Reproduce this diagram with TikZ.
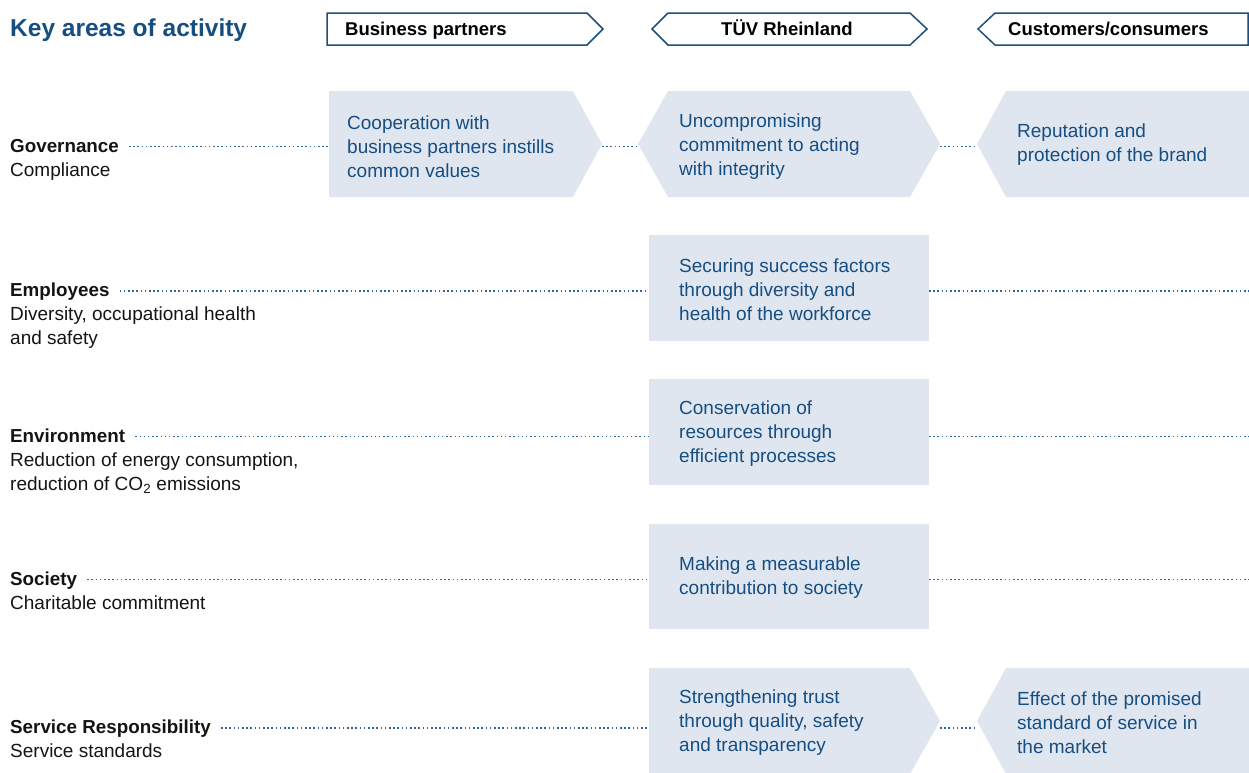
\documentclass[tikz,border=0pt]{standalone}
\usepackage{fontspec}
\setmainfont{Liberation Sans}
\definecolor{tblue}{RGB}{22,78,130}
\definecolor{boxfill}{RGB}{224,230,240}
\definecolor{dotblue}{RGB}{45,105,160}
\definecolor{hdr}{RGB}{30,80,125}
\definecolor{labtxt}{RGB}{20,20,20}
\tikzset{
  hdrbox/.style={draw=hdr, line width=1.5pt, fill=white, line join=miter},
  chev/.style={fill=boxfill},
  htxt/.style={anchor=base west, inner sep=0, text=black, font=\fontsize{18.5}{22}\selectfont\bfseries},
  btxt/.style={anchor=west, align=left, inner sep=0, text=tblue, font=\fontsize{19}{24}\selectfont},
  lab/.style={anchor=base west, inner sep=0, text=labtxt, font=\fontsize{18.8}{24}\selectfont\bfseries},
  sublab/.style={anchor=base west, inner sep=0, text=labtxt, font=\fontsize{19}{24}\selectfont},
  dotline/.style={draw=dotblue, line width=1.5pt, dash pattern=on 1.5pt off 2.7pt}
}
\begin{document}
\begin{tikzpicture}[x=1pt,y=-1pt]
\useasboundingbox (0,0) rectangle (1249,772);
\clip (0,0) rectangle (1249,772);

% title
\node[anchor=base west, inner sep=0, text=tblue, font=\fontsize{24.5}{28}\selectfont\bfseries] (title) at (10,36) {Key areas of activity};

% headers
\draw[hdrbox] (327,13) -- (587,13) -- (603,29) -- (587,45) -- (327,45) -- cycle;
\draw[hdrbox] (652,29) -- (668,13) -- (910,13) -- (927,29) -- (910,45) -- (668,45) -- cycle;
\draw[hdrbox] (978,29) -- (995,13) -- (1248,13) -- (1248,45) -- (995,45) -- cycle;
\node[htxt] (hbp) at (345,35.5) {Business partners};
\node[htxt, anchor=base] (htuv) at (787,35.5) {TÜV Rheinland};
\node[htxt] (hcu) at (1008,35.5) {Customers/consumers};

% labels
\node[lab] (gov) at (10,152) {Governance};
\node[sublab] (gov2) at (10,176) {Compliance};
\node[lab] (emp) at (10,296.5) {Employees};
\node[sublab] (emp2) at (10,320.5) {Diversity, occupational health};
\node[sublab] (emp3) at (10,344.5) {and safety};
\node[lab] (env) at (10,442) {Environment};
\node[sublab] (env2) at (10,466) {Reduction of energy consumption,};
\node[sublab] (env3) at (10,490) {reduction of CO\textsubscript{2} emissions};
\node[lab] (soc) at (10,585) {Society};
\node[sublab] (soc2) at (10,609) {Charitable commitment};
\node[lab] (ser) at (10,733.5) {Service Responsibility};
\node[sublab] (ser2) at (10,757.5) {Service standards};

% shape anchor coordinates
\coordinate (bp1L) at (329,144);  \coordinate (bp1R) at (602,144);
\coordinate (tu1L) at (638,144);  \coordinate (tu1R) at (940,144);
\coordinate (cu1L) at (977,144);
\coordinate (tuL) at (649,0);     \coordinate (tuR) at (929,0);
\coordinate (edge) at (1249,0);
\coordinate (tu5R) at (940,721);  \coordinate (cu5L) at (977,721);

% start points of dotted lines
\coordinate (g) at ([xshift=10pt,yshift=5.5pt]gov.base east);
\coordinate (e) at ([xshift=10pt,yshift=5.5pt]emp.base east);
\coordinate (v) at ([xshift=10pt,yshift=5.5pt]env.base east);
\coordinate (s) at ([xshift=10pt,yshift=5.5pt]soc.base east);
\coordinate (r) at ([xshift=10pt,yshift=5.5pt]ser.base east);

% dotted connectors
\draw[dotline] (g) -- (bp1L |- g);
\draw[dotline] (bp1R |- g) -- (tu1L |- g);
\draw[dotline] (tu1R |- g) -- (cu1L |- g);
\draw[dotline] (e) -- (tuL |- e);
\draw[dotline] (tuR |- e) -- (edge |- e);
\draw[dotline] (v) -- (tuL |- v);
\draw[dotline] (tuR |- v) -- (edge |- v);
\draw[dotline] (s) -- (tuL |- s);
\draw[dotline] (tuR |- s) -- (edge |- s);
\draw[dotline] (r) -- (tuL |- r);
\draw[dotline] (tu5R |- r) -- (cu5L |- r);

% boxes
\fill[chev] (329,91) -- (573,91) -- (bp1R) -- (573,197) -- (329,197) -- cycle;
\fill[chev] (tu1L) -- (668,91) -- (910,91) -- (tu1R) -- (910,197) -- (668,197) -- cycle;
\fill[chev] (cu1L) -- (1006,91) -- (1249,91) -- (1249,197) -- (1006,197) -- cycle;
\fill[chev] (649,235) rectangle (929,341);
\fill[chev] (649,379) rectangle (929,485);
\fill[chev] (649,524) rectangle (929,629);
\fill[chev] (649,668) -- (910,668) -- (tu5R) -- (910,774) -- (649,774) -- cycle;
\fill[chev] (cu5L) -- (1006,668) -- (1249,668) -- (1249,774) -- (1006,774) -- cycle;

% box texts
\node[btxt] (t1a) at (347,146.5) {Cooperation with\\business partners instills\\common values};
\node[btxt] (t1b) at (679,146.5) {Uncompromising\\commitment to acting\\with integrity};
\node[btxt] (t1c) at (1017,145) {Reputation and\\protection of the brand};
\node[btxt] (t2) at (679,290) {Securing success factors\\through diversity and\\health of the workforce};
\node[btxt] (t3) at (679,434) {Conservation of\\resources through\\efficient processes};
\node[btxt] (t4) at (679,578) {Making a measurable\\contribution to society};
\node[btxt] (t5a) at (679,723) {Strengthening trust\\through quality, safety\\and transparency};
\node[btxt] (t5b) at (1017,723) {Effect of the promised\\standard of service in\\the market};
\end{tikzpicture}
\end{document}
